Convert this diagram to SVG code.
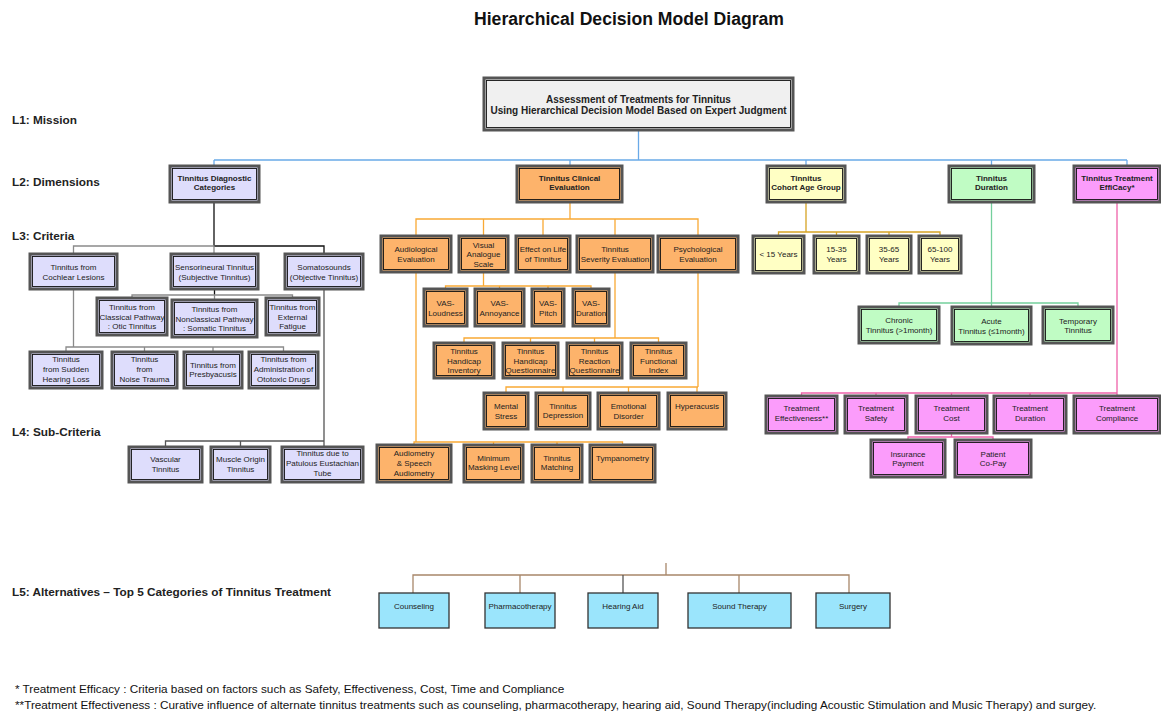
<svg xmlns="http://www.w3.org/2000/svg" width="1161" height="713" viewBox="0 0 1161 713">
<style>
text{font-family:"Liberation Sans",Arial,sans-serif;fill:#222}
.t{font-size:8px;text-anchor:middle}
.tb{font-size:8px;text-anchor:middle;font-weight:bold}
.lvl{font-size:11.8px;font-weight:bold;fill:#222}
.fn{font-size:11.75px;fill:#111}
.o{stroke:#555;stroke-width:3}
.i{fill:none;stroke:#111;stroke-width:0.9}
.s{stroke:#333;stroke-width:1.3}
.lav{fill:#deddfc}
.org{fill:#fdb36b}
.yel{fill:#ffffc4}
.grn{fill:#c0fcc4}
.mag{fill:#fb9cfb}
.cyn{fill:#9be5fc}
.gry{fill:#f0f0f0}
.c{fill:none;stroke-width:1.3}
.blue{stroke:#6aaae8}
.blk{stroke:#111}
.gr{stroke:#8a8a8a}
.or{stroke:#f9a934}
.gd{stroke:#d6a424}
.gn{stroke:#74cf9c}
.pk{stroke:#ee62aa}
.br{stroke:#a8876a}
</style>

<text x="629" y="25" style="font-size:17.6px;font-weight:bold;text-anchor:middle;fill:#111">Hierarchical Decision Model Diagram</text>

<g id="levels">
<text class="lvl" x="12" y="124">L1: Mission</text>
<text class="lvl" x="12" y="186">L2: Dimensions</text>
<text class="lvl" x="12" y="239.5">L3: Criteria</text>
<text class="lvl" x="12" y="436">L4: Sub-Criteria</text>
<text class="lvl" x="12" y="596">L5: Alternatives – Top 5 Categories of Tinnitus Treatment</text>
</g>

<g id="connectors">
<path class="c blue" d="M638.5 130V160M214 160H1127M214 160V166M570 160V166M806 160V166M991.5 160V166M1127 160V166"/>
<path class="c blk" d="M214 202V246H324V254M214.5 289V295"/>
<path class="c gr" d="M73.5 254V246H214V254M132 298V295H292.5V298M214.5 295V300M73.5 289V347M66 352V347H283.5V352M144.5 347V352M213 347V352"/>
<path class="c" stroke="#555" d="M324 289V447M165.5 447V441H324M240.5 441V447"/>
<path class="c or" d="M570 202V219M416 236V219H698V236M483.5 219V236M543 219V236M615 219V236M483.5 272V286M445.5 289V286H591V289M499.5 286V289M548 286V289M615 272V338M464 343V338H658.5V343M530.5 338V343M594.5 338V343M698 272V387M506 393V387H698M563 387V393M628.5 387V393M697 387V393M416 272V442M414 445V442H622.5V445M493.5 442V445M557 442V445"/>
<path class="c gd" d="M806 202V232M778.5 236V232H940V236M836.5 232V236M889 232V236"/>
<path class="c gn" d="M991.5 202V307M899 307V303H1078V307"/>
<path class="c pk" d="M1117 202V393M801.5 396V393H1117V396M876 393V396M951.5 393V396M1030 393V396M951.5 433V437M908 440V437H993V440"/>
<path class="c br" d="M666 563V575M413 593V575H849V593M520 575V593M739 575V593"/>
<path class="c" stroke="#555" d="M623 575V593"/>
</g>

<g id="mission"><rect class="o gry" x="484" y="78" width="309" height="52"/><rect class="i" x="486.5" y="80.5" width="304" height="47"/>
<text x="638.5" style="font-size:10px;font-weight:bold;text-anchor:middle"><tspan x="638.5" y="102.5">Assessment of Treatments for Tinnitus</tspan><tspan x="638.5" y="114">Using Hierarchical Decision Model Based on Expert Judgment</tspan></text></g>

<!-- L2 -->
<g id="diagnostic"><rect class="o lav" x="170" y="166" width="89" height="36"/><rect class="i" x="172.5" y="168.5" width="84" height="31"/>
<text class="tb"><tspan x="214.5" y="181">Tinnitus Diagnostic</tspan><tspan x="214.5" y="190">Categories</tspan></text></g>
<g id="clinical"><rect class="o org" x="517" y="166" width="105" height="36"/><rect class="i" x="519.5" y="168.5" width="100" height="31"/>
<text class="tb"><tspan x="569.5" y="181">Tinnitus Clinical</tspan><tspan x="569.5" y="190">Evaluation</tspan></text></g>
<g id="cohort"><rect class="o yel" x="767" y="166" width="78" height="36"/><rect class="i" x="769.5" y="168.5" width="73" height="31"/>
<text class="tb"><tspan x="806" y="181">Tinnitus</tspan><tspan x="806" y="190">Cohort Age Group</tspan></text></g>
<g id="duration"><rect class="o grn" x="949" y="166" width="85" height="36"/><rect class="i" x="951.5" y="168.5" width="80" height="31"/>
<text class="tb"><tspan x="991.5" y="181">Tinnitus</tspan><tspan x="991.5" y="190">Duration</tspan></text></g>
<g id="efficacy"><rect class="o mag" x="1074" y="166" width="86" height="36"/><rect class="i" x="1076.5" y="168.5" width="81" height="31"/>
<text class="tb"><tspan x="1117" y="181">Tinnitus Treatment</tspan><tspan x="1117" y="190">EffiCacy*</tspan></text></g>

<!-- Diagnostic subtree -->
<g id="cochlear"><rect class="o lav" x="30" y="254" width="87" height="35"/><rect class="i" x="32.5" y="256.5" width="82" height="30"/>
<text class="t"><tspan x="73.5" y="269.5">Tinnitus from</tspan><tspan x="73.5" y="279.5">Cochlear Lesions</tspan></text></g>
<g id="sensorineural"><rect class="o lav" x="171" y="254" width="87" height="35"/><rect class="i" x="173.5" y="256.5" width="82" height="30"/>
<text class="t"><tspan x="214.5" y="269.5">Sensorineural Tinnitus</tspan><tspan x="214.5" y="279.5">(Subjective Tinnitus)</tspan></text></g>
<g id="somatosounds"><rect class="o lav" x="285" y="254" width="78" height="35"/><rect class="i" x="287.5" y="256.5" width="73" height="30"/>
<text class="t"><tspan x="324" y="269.5">Somatosounds</tspan><tspan x="324" y="279.5">(Objective Tinnitus)</tspan></text></g>

<g id="classical"><rect class="o lav" x="97" y="298" width="70" height="37"/><rect class="i" x="99.5" y="300.5" width="65" height="32"/>
<text class="t"><tspan x="132" y="310">Tinnitus from</tspan><tspan x="132" y="319.5">Classical Pathway</tspan><tspan x="132" y="329">: Otic Tinnitus</tspan></text></g>
<g id="nonclassical"><rect class="o lav" x="172" y="300" width="85" height="37"/><rect class="i" x="174.5" y="302.5" width="80" height="32"/>
<text class="t"><tspan x="214.5" y="312">Tinnitus from</tspan><tspan x="214.5" y="321.5">Nonclassical Pathway</tspan><tspan x="214.5" y="331">: Somatic Tinnitus</tspan></text></g>
<g id="external"><rect class="o lav" x="266" y="298" width="53" height="37"/><rect class="i" x="268.5" y="300.5" width="48" height="32"/>
<text class="t"><tspan x="292.5" y="310">Tinnitus from</tspan><tspan x="292.5" y="319.5">External</tspan><tspan x="292.5" y="329">Fatigue</tspan></text></g>

<g id="sudden"><rect class="o lav" x="30" y="352" width="72" height="36"/><rect class="i" x="32.5" y="354.5" width="67" height="31"/>
<text class="t"><tspan x="66" y="362">Tinnitus</tspan><tspan x="66" y="372">from Sudden</tspan><tspan x="66" y="382">Hearing Loss</tspan></text></g>
<g id="noise"><rect class="o lav" x="112" y="352" width="65" height="36"/><rect class="i" x="114.5" y="354.5" width="60" height="31"/>
<text class="t"><tspan x="144.5" y="362">Tinnitus</tspan><tspan x="144.5" y="372">from</tspan><tspan x="144.5" y="382">Noise Trauma</tspan></text></g>
<g id="presbyacusis"><rect class="o lav" x="184" y="352" width="58" height="36"/><rect class="i" x="186.5" y="354.5" width="53" height="31"/>
<text class="t"><tspan x="213" y="368">Tinnitus from</tspan><tspan x="213" y="377">Presbyacusis</tspan></text></g>
<g id="ototoxic"><rect class="o lav" x="249" y="352" width="69" height="36"/><rect class="i" x="251.5" y="354.5" width="64" height="31"/>
<text class="t"><tspan x="283.5" y="362">Tinnitus from</tspan><tspan x="283.5" y="372">Administration of</tspan><tspan x="283.5" y="382">Ototoxic Drugs</tspan></text></g>

<g id="vascular"><rect class="o lav" x="129" y="447" width="73" height="35"/><rect class="i" x="131.5" y="449.5" width="68" height="30"/>
<text class="t"><tspan x="165.5" y="461.5">Vascular</tspan><tspan x="165.5" y="471.5">Tinnitus</tspan></text></g>
<g id="muscle"><rect class="o lav" x="211" y="447" width="59" height="35"/><rect class="i" x="213.5" y="449.5" width="54" height="30"/>
<text class="t"><tspan x="240.5" y="461.5">Muscle Origin</tspan><tspan x="240.5" y="471.5">Tinnitus</tspan></text></g>
<g id="patulous"><rect class="o lav" x="282" y="447" width="81" height="35"/><rect class="i" x="284.5" y="449.5" width="76" height="30"/>
<text class="t"><tspan x="322.5" y="456">Tinnitus due to</tspan><tspan x="322.5" y="466">Patulous Eustachian</tspan><tspan x="322.5" y="476">Tube</tspan></text></g>

<!-- Clinical subtree -->
<g id="audiological"><rect class="o org" x="381" y="236" width="70" height="36"/><rect class="i" x="383.5" y="238.5" width="65" height="31"/>
<text class="t"><tspan x="416" y="252">Audiological</tspan><tspan x="416" y="262">Evaluation</tspan></text></g>
<g id="vas"><rect class="o org" x="459" y="236" width="49" height="36"/><rect class="i" x="461.5" y="238.5" width="44" height="31"/>
<text class="t"><tspan x="483.5" y="248">Visual</tspan><tspan x="483.5" y="257">Analogue</tspan><tspan x="483.5" y="267">Scale</tspan></text></g>
<g id="effectlife"><rect class="o org" x="516" y="236" width="54" height="36"/><rect class="i" x="518.5" y="238.5" width="49" height="31"/>
<text class="t"><tspan x="543" y="252">Effect on Life</tspan><tspan x="543" y="262">of Tinnitus</tspan></text></g>
<g id="severity"><rect class="o org" x="577" y="236" width="76" height="36"/><rect class="i" x="579.5" y="238.5" width="71" height="31"/>
<text class="t"><tspan x="615" y="252">Tinnitus</tspan><tspan x="615" y="262">Severity Evaluation</tspan></text></g>
<g id="psychological"><rect class="o org" x="658" y="236" width="80" height="36"/><rect class="i" x="660.5" y="238.5" width="75" height="31"/>
<text class="t"><tspan x="698" y="252">Psychological</tspan><tspan x="698" y="262">Evaluation</tspan></text></g>

<g id="vasloud"><rect class="o org" x="424" y="289" width="43" height="37"/><rect class="i" x="426.5" y="291.5" width="38" height="32"/>
<text class="t"><tspan x="445.5" y="305.5">VAS-</tspan><tspan x="445.5" y="315.5">Loudness</tspan></text></g>
<g id="vasannoy"><rect class="o org" x="475" y="289" width="49" height="37"/><rect class="i" x="477.5" y="291.5" width="44" height="32"/>
<text class="t"><tspan x="499.5" y="305.5">VAS-</tspan><tspan x="499.5" y="315.5">Annoyance</tspan></text></g>
<g id="vaspitch"><rect class="o org" x="532" y="289" width="32" height="37"/><rect class="i" x="534.5" y="291.5" width="27" height="32"/>
<text class="t"><tspan x="548" y="305.5">VAS-</tspan><tspan x="548" y="315.5">Pitch</tspan></text></g>
<g id="vasduration"><rect class="o org" x="573" y="289" width="36" height="37"/><rect class="i" x="575.5" y="291.5" width="31" height="32"/>
<text class="t"><tspan x="591" y="305.5">VAS-</tspan><tspan x="591" y="315.5">Duration</tspan></text></g>

<g id="thi"><rect class="o org" x="434" y="343" width="60" height="35"/><rect class="i" x="436.5" y="345.5" width="55" height="30"/>
<text class="t"><tspan x="464" y="354">Tinnitus</tspan><tspan x="464" y="363.5">Handicap</tspan><tspan x="464" y="373">Inventory</tspan></text></g>
<g id="thq"><rect class="o org" x="503" y="343" width="55" height="35"/><rect class="i" x="505.5" y="345.5" width="50" height="30"/>
<text class="t"><tspan x="530.5" y="354">Tinnitus</tspan><tspan x="530.5" y="363.5">Handicap</tspan><tspan x="530.5" y="373">Questionnaire</tspan></text></g>
<g id="trq"><rect class="o org" x="567" y="343" width="55" height="35"/><rect class="i" x="569.5" y="345.5" width="50" height="30"/>
<text class="t"><tspan x="594.5" y="354">Tinnitus</tspan><tspan x="594.5" y="363.5">Reaction</tspan><tspan x="594.5" y="373">Questionnaire</tspan></text></g>
<g id="tfi"><rect class="o org" x="631" y="343" width="55" height="35"/><rect class="i" x="633.5" y="345.5" width="50" height="30"/>
<text class="t"><tspan x="658.5" y="354">Tinnitus</tspan><tspan x="658.5" y="363.5">Functional</tspan><tspan x="658.5" y="373">Index</tspan></text></g>

<g id="mental"><rect class="o org" x="484" y="393" width="44" height="36"/><rect class="i" x="486.5" y="395.5" width="39" height="31"/>
<text class="t"><tspan x="506" y="408.5">Mental</tspan><tspan x="506" y="418.5">Stress</tspan></text></g>
<g id="depression"><rect class="o org" x="536" y="393" width="54" height="36"/><rect class="i" x="538.5" y="395.5" width="49" height="31"/>
<text class="t"><tspan x="563" y="408.5">Tinnitus</tspan><tspan x="563" y="417.5">Depression</tspan></text></g>
<g id="emotional"><rect class="o org" x="598" y="393" width="61" height="36"/><rect class="i" x="600.5" y="395.5" width="56" height="31"/>
<text class="t"><tspan x="628.5" y="408.5">Emotional</tspan><tspan x="628.5" y="418.5">Disorder</tspan></text></g>
<g id="hyperacusis"><rect class="o org" x="668" y="393" width="58" height="36"/><rect class="i" x="670.5" y="395.5" width="53" height="31"/>
<text class="t" x="697" y="409">Hyperacusis</text></g>

<g id="audiometry"><rect class="o org" x="377" y="445" width="74" height="37"/><rect class="i" x="379.5" y="447.5" width="69" height="32"/>
<text class="t"><tspan x="414" y="456">Audiometry</tspan><tspan x="414" y="466">&amp; Speech</tspan><tspan x="414" y="475.5">Audiometry</tspan></text></g>
<g id="masking"><rect class="o org" x="464" y="445" width="59" height="37"/><rect class="i" x="466.5" y="447.5" width="54" height="32"/>
<text class="t"><tspan x="493.5" y="460.5">Minimum</tspan><tspan x="493.5" y="469.5">Masking Level</tspan></text></g>
<g id="matching"><rect class="o org" x="532" y="445" width="50" height="37"/><rect class="i" x="534.5" y="447.5" width="45" height="32"/>
<text class="t"><tspan x="557" y="460.5">Tinnitus</tspan><tspan x="557" y="469.5">Matching</tspan></text></g>
<g id="tympanometry"><rect class="o org" x="590" y="445" width="65" height="37"/><rect class="i" x="592.5" y="447.5" width="60" height="32"/>
<text class="t" x="622.5" y="461">Tympanometry</text></g>

<!-- Cohort -->
<g id="lt15"><rect class="o yel" x="753" y="236" width="51" height="37"/><rect class="i" x="755.5" y="238.5" width="46" height="32"/>
<text class="t" x="778.5" y="257">&lt; 15 Years</text></g>
<g id="y1535"><rect class="o yel" x="814" y="236" width="45" height="37"/><rect class="i" x="816.5" y="238.5" width="40" height="32"/>
<text class="t"><tspan x="836.5" y="252">15-35</tspan><tspan x="836.5" y="262">Years</tspan></text></g>
<g id="y3565"><rect class="o yel" x="867" y="236" width="44" height="37"/><rect class="i" x="869.5" y="238.5" width="39" height="32"/>
<text class="t"><tspan x="889" y="252">35-65</tspan><tspan x="889" y="262">Years</tspan></text></g>
<g id="y65100"><rect class="o yel" x="919" y="236" width="42" height="37"/><rect class="i" x="921.5" y="238.5" width="37" height="32"/>
<text class="t"><tspan x="940" y="252">65-100</tspan><tspan x="940" y="262">Years</tspan></text></g>

<!-- Duration -->
<g id="chronic"><rect class="o grn" x="859" y="307" width="80" height="36"/><rect class="i" x="861.5" y="309.5" width="75" height="31"/>
<text class="t"><tspan x="899" y="323">Chronic</tspan><tspan x="899" y="333">Tinnitus (&gt;1month)</tspan></text></g>
<g id="acute"><rect class="o grn" x="952" y="307" width="79" height="37"/><rect class="i" x="954.5" y="309.5" width="74" height="32"/>
<text class="t"><tspan x="991.5" y="323.5">Acute</tspan><tspan x="991.5" y="333.5">Tinnitus (≤1month)</tspan></text></g>
<g id="temporary"><rect class="o grn" x="1043" y="307" width="70" height="36"/><rect class="i" x="1045.5" y="309.5" width="65" height="31"/>
<text class="t"><tspan x="1078" y="323.5">Temporary</tspan><tspan x="1078" y="332.5">Tinnitus</tspan></text></g>

<!-- Efficacy -->
<g id="effectiveness"><rect class="o mag" x="766" y="396" width="71" height="37"/><rect class="i" x="768.5" y="398.5" width="66" height="32"/>
<text class="t"><tspan x="801.5" y="411">Treatment</tspan><tspan x="801.5" y="421">Effectiveness**</tspan></text></g>
<g id="safety"><rect class="o mag" x="845" y="396" width="62" height="37"/><rect class="i" x="847.5" y="398.5" width="57" height="32"/>
<text class="t"><tspan x="876" y="411">Treatment</tspan><tspan x="876" y="421">Safety</tspan></text></g>
<g id="cost"><rect class="o mag" x="916" y="396" width="71" height="37"/><rect class="i" x="918.5" y="398.5" width="66" height="32"/>
<text class="t"><tspan x="951.5" y="411">Treatment</tspan><tspan x="951.5" y="421">Cost</tspan></text></g>
<g id="tduration"><rect class="o mag" x="994" y="396" width="72" height="37"/><rect class="i" x="996.5" y="398.5" width="67" height="32"/>
<text class="t"><tspan x="1030" y="411">Treatment</tspan><tspan x="1030" y="421">Duration</tspan></text></g>
<g id="compliance"><rect class="o mag" x="1074" y="396" width="86" height="37"/><rect class="i" x="1076.5" y="398.5" width="81" height="32"/>
<text class="t"><tspan x="1117" y="411">Treatment</tspan><tspan x="1117" y="421">Compliance</tspan></text></g>
<g id="insurance"><rect class="o mag" x="871" y="440" width="74" height="37"/><rect class="i" x="873.5" y="442.5" width="69" height="32"/>
<text class="t"><tspan x="908" y="456.5">Insurance</tspan><tspan x="908" y="466">Payment</tspan></text></g>
<g id="copay"><rect class="o mag" x="955" y="440" width="76" height="37"/><rect class="i" x="957.5" y="442.5" width="71" height="32"/>
<text class="t"><tspan x="993" y="456.5">Patient</tspan><tspan x="993" y="466">Co-Pay</tspan></text></g>

<!-- L5 -->
<g id="counseling"><rect class="s cyn" x="379" y="593" width="70" height="35"/><text class="t" x="414" y="609">Counseling</text></g>
<g id="pharmacotherapy"><rect class="s cyn" x="485" y="593" width="70" height="35"/><text class="t" x="520" y="609">Pharmacotherapy</text></g>
<g id="hearingaid"><rect class="s cyn" x="588" y="593" width="70" height="35"/><text class="t" x="623" y="609">Hearing Aid</text></g>
<g id="soundtherapy"><rect class="s cyn" x="688" y="593" width="103" height="35"/><text class="t" x="739.5" y="609">Sound Therapy</text></g>
<g id="surgery"><rect class="s cyn" x="816" y="593" width="74" height="35"/><text class="t" x="853" y="609">Surgery</text></g>

<g id="footnotes">
<text class="fn" x="15" y="693">* Treatment Efficacy : Criteria based on factors such as Safety, Effectiveness, Cost, Time and Compliance</text>
<text class="fn" x="15" y="709">**Treatment Effectiveness : Curative influence of alternate tinnitus treatments such as counseling, pharmacotherapy, hearing aid, Sound Therapy(including Acoustic Stimulation and Music Therapy) and surgey.</text>
</g>
</svg>
